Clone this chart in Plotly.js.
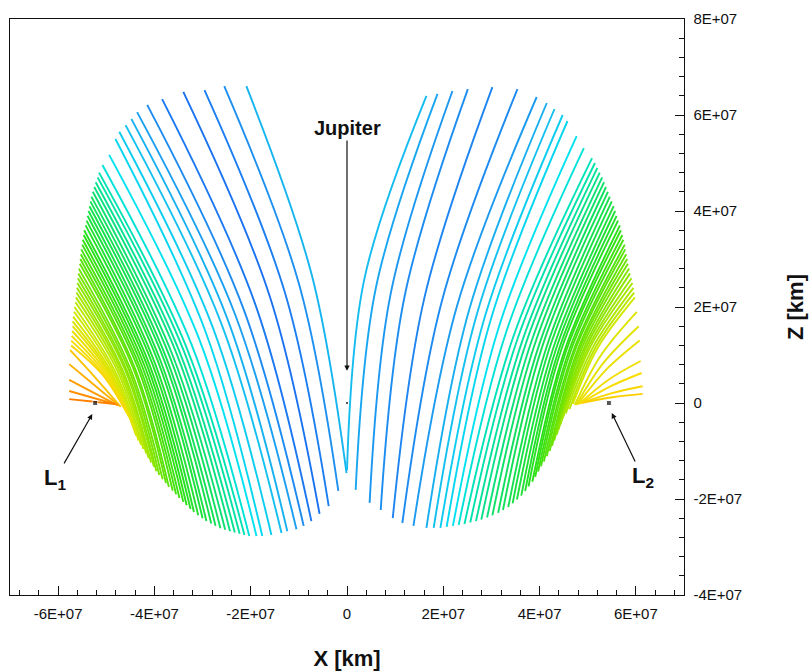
<!DOCTYPE html>
<html>
<head>
<meta charset="utf-8">
<script src="https://cdn.plot.ly/plotly-3.0.1.min.js"></script>
<style>html,body{margin:0;padding:0;background:#fff;}#chart{width:811px;height:671px;}</style>
</head>
<body>
<div id="chart"></div>
<script>
// All coordinates in units of 1E6 km (converted to km when plotted)
const UNIT = 1e6;

// ---- L1 family (left) : one orbit per entry, top end / middle / bottom end ----
const leftTopX = [-20.9,-25.5,-29.6,-34.0,-38.4,-41.5,-43.6,-44.8,-46.0,-47.3,-48.1,-49.4,-50.8,
 -51.5,-51.8,-52.2,-52.5,-52.8,-53.1,-53.3,-53.5,-53.7,-53.9,-54.1,-54.3,-54.6,-54.7,-54.9,-55.0,-55.2,-55.3,-55.4,-55.5,-55.7,-55.8,-55.9,-56.0,-56.1,-56.2,-56.3,-56.4,-56.6,-56.7,-56.9,-57.0,-57.0,-57.1,-57.2,-57.3,-57.3,
 -57.5,-57.7,-57.7,-57.7,-57.7];
const leftTopZ = [66.0,66.0,65.2,64.8,63.3,62.1,60.6,59.2,57.9,56.5,55.0,51.7,49.6,
 48,47,46,45,44,43,42,41,40,39,38,37,36,35,34,33,32,31,30,29,28,27,26,25,24,23,22,21,20,19,18,17,16,15,14,13,12,
 11.0,8.1,4.8,2.5,0.8];
const leftMidX = [-7.3,-10.0,-12.9,-16.0,-19.1,-21.5,-23.3,-24.9,-26.2,-27.9,-29.4,-30.7,-32.3,
 -33.3,-34.0,-34.8,-35.4,-36.2,-36.8,-37.5,-38.0,-38.7,-39.2,-39.9,-40.4,-41.0,-41.5,-42.0,-42.5,-43.0,-43.4,-44.0,-44.3,-44.9,-45.3,-45.7,-46.0,-46.5,-46.8,-47.2,-47.6,-48.1,-48.5,-48.9,-49.25,-49.5,-49.9,-50.3,-50.7,-51.0,
 -52.2,-52.5,-52.65,-52.8,-52.95];
const leftMidZ = [26.6,24.9,23.0,22.1,20.7,19.6,18.6,17.7,16.8,15.8,14.9,13.3,12.2,
 11.5,11.1,10.7,10.3,9.9,9.6,9.3,9.0,8.7,8.5,8.3,8.1,7.9,7.8,7.6,7.5,7.4,7.25,7.1,7.0,6.9,6.9,6.7,6.7,6.6,6.6,6.6,6.5,6.4,6.4,6.35,6.35,6.3,6.3,6.25,6.2,6.15,
 5.2,3.75,2.15,1.1,0.3];
const leftBotX = [-0.1,-1.8,-3.8,-5.7,-7.4,-9.0,-10.5,-12.4,-13.6,-15.7,-17.6,-18.8,-20.3,
 -21.3,-22.3,-23.3,-24.3,-25.3,-26.3,-27.3,-28.2,-29.2,-30.0,-30.9,-31.8,-32.5,-33.3,-34.0,-34.8,-35.5,-36.2,-37.0,-37.6,-38.3,-39.0,-39.6,-40.1,-40.7,-41.2,-41.7,-42.3,-42.8,-43.3,-43.8,-44.1,-44.4,-44.8,-45.3,-45.8,-46.3,
 -47.0,-47.3,-47.6,-47.9,-48.2];
const leftBotZ = [-14.6,-18.3,-21.5,-23.1,-24.6,-25.6,-26.3,-26.7,-27.1,-27.5,-27.7,-27.7,-27.7,
 -27.5,-27.25,-27.0,-26.7,-26.4,-26.1,-25.6,-25.1,-24.6,-24.0,-23.4,-22.7,-22.1,-21.3,-20.6,-19.8,-19.0,-18.3,-17.5,-16.7,-15.9,-15.0,-14.2,-13.3,-12.4,-11.5,-10.5,-9.6,-8.7,-7.8,-6.8,-5.8,-4.8,-3.8,-2.9,-2.0,-1.0,
 -0.8,-0.6,-0.5,-0.3,-0.2];
const leftLevel = [0.22,0.12,0.06,0.02,0.04,0.1,0.16,0.21,0.25,0.29,0.32,0.36,0.4,
 0.46,0.48,0.5,0.52,0.54,0.56,0.57,0.58,0.59,0.6,0.61,0.62,0.63,0.64,0.65,0.66,0.67,0.68,0.69,0.7,0.71,0.72,0.73,0.74,0.75,0.76,0.77,0.78,0.79,0.8,0.81,0.82,0.83,0.84,0.85,0.86,0.87,
 0.9,0.93,0.96,0.98,1.0];

// ---- L2 family (right) ----
const rightTopX = [16.5,18.8,21.9,25.1,30.2,35.4,39.4,41.5,43.1,44.8,45.8,47.7,49.2,
 50.9,51.5,52.0,52.5,53.0,53.4,53.8,54.2,54.6,55.0,55.4,55.7,56.0,56.3,56.7,56.9,57.2,57.4,57.7,57.8,58.0,58.2,58.35,58.6,58.8,59.1,59.3,59.5,59.65,59.8,
 60.2,60.6,60.8,61.0,61.2,61.4,61.4];
const rightTopZ = [64.0,64.4,65.0,65.4,65.8,65.4,63.75,62.5,61.25,60.0,58.75,55.6,53.1,
 51,50,49,48,47,46,45,44,43,42,41,40,39,38,37,36,35,34,33,32,31,30,29,28,27,26,25,24,23,22,
 19.0,16.0,13.0,8.75,6.25,3.5,1.9];
const rightMidX = [3.6,6.0,9.1,12.0,16.05,19.7,22.85,25.35,27.0,28.65,29.9,31.6,33.1,
 34.6,35.5,36.5,37.3,38.2,39.0,39.85,40.55,41.4,42.05,42.8,43.4,44.0,44.5,45.25,45.6,46.2,46.6,47.15,47.5,48.0,48.35,48.75,49.25,49.65,50.1,50.55,51.1,51.6,52.15,
 52.75,53.3,53.8,54.25,54.7,55.0,55.2];
const rightMidZ = [25.8,24.0,22.9,22.4,21.8,21.2,20.2,19.3,18.6,18.0,17.5,16.0,14.9,
 13.95,13.6,13.2,12.85,12.5,12.25,11.95,11.75,11.5,11.4,11.3,11.2,11.1,11.1,11.1,11.1,11.15,11.2,11.2,11.3,11.3,11.4,11.4,11.5,11.55,11.6,11.7,11.65,11.55,11.6,
 9.95,8.4,6.9,4.8,3.45,2.05,1.2];
const rightBotX = [0.0,1.8,4.7,7.0,9.5,11.5,13.8,16.5,18.0,19.4,20.7,22.0,23.2,
 24.4,25.6,26.8,27.9,29.1,30.2,31.4,32.4,33.5,34.4,35.3,36.2,37.0,37.7,38.5,39.1,39.7,40.3,40.9,41.5,42.1,42.6,43.05,43.55,43.95,44.35,44.8,45.45,46.2,46.9,
 47.3,47.6,47.9,48.2,48.5,48.8,49.1];
const rightBotZ = [-14.0,-18.1,-20.8,-22.3,-24.0,-25.0,-25.6,-26.0,-26.0,-26.0,-25.8,-25.6,-25.4,
 -25.2,-24.9,-24.6,-24.3,-23.86,-23.4,-22.9,-22.3,-21.7,-20.9,-20.1,-19.3,-18.35,-17.4,-16.4,-15.4,-14.3,-13.2,-12.2,-11.1,-10.0,-8.9,-7.8,-6.6,-5.5,-4.4,-3.2,-2.2,-1.3,-0.2,
 -0.4,-0.4,-0.3,-0.2,-0.1,0.0,0.1];
const rightLevel = [0.24,0.18,0.14,0.11,0.08,0.1,0.15,0.2,0.25,0.29,0.32,0.36,0.4,
 0.45,0.47,0.49,0.51,0.53,0.55,0.56,0.57,0.58,0.59,0.6,0.61,0.62,0.63,0.64,0.65,0.66,0.67,0.68,0.69,0.7,0.71,0.72,0.73,0.74,0.75,0.76,0.77,0.78,0.8,
 0.82,0.83,0.84,0.85,0.86,0.87,0.88];

// ---- Marked points and labels ----
const pointName = ['L1','L2','Jupiter'];
const pointX = [-52.3, 54.4, 0];
const pointZ = [0, 0, 0];
const labelText = ['<b>Jupiter</b>','<b>L<sub>1</sub></b>','<b>L<sub>2</sub></b>'];
const labelX = [0, -60.6, 61.4];
const labelZ = [57.3, -15.8, -15.4];
const arrowTipX = [0, -52.9, 55.0];
const arrowTipZ = [6.7, -2.3, -2.1];

// ---- Axis ticks ----
const xTickVals = [-6e7,-4e7,-2e7,0,2e7,4e7,6e7];
const xTickText = ['-6E+07','-4E+07','-2E+07','0','2E+07','4E+07','6E+07'];
const yTickVals = [-4e7,-2e7,0,2e7,4e7,6e7,8e7];
const yTickText = ['-4E+07','-2E+07','0','2E+07','4E+07','6E+07','8E+07'];

// colour map (jet-like)
const stops = [[0.00,[26,108,240]],[0.12,[30,144,240]],[0.25,[20,192,240]],[0.36,[0,226,240]],
  [0.46,[0,226,180]],[0.56,[16,224,96]],[0.64,[40,224,24]],[0.72,[120,228,0]],
  [0.80,[208,232,0]],[0.86,[248,220,0]],[0.93,[255,176,0]],[1.00,[255,128,0]]];
function colorAt(v){
  for(let i=1;i<stops.length;i++){
    if(v<=stops[i][0]){
      const a=stops[i-1], b=stops[i];
      const t=(v-a[0])/(b[0]-a[0]);
      const c=a[1].map((ch,k)=>Math.round(ch+(b[1][k]-ch)*t));
      return 'rgb('+c.join(',')+')';
    }
  }
  const c=stops[stops.length-1][1]; return 'rgb('+c.join(',')+')';
}

const traces = [];
function addFamily(tx,tz,mx,mz,bx,bz,lev){
  for(let i=0;i<tx.length;i++){
    traces.push({
      type:'scatter', mode:'lines',
      x:[tx[i]*UNIT, mx[i]*UNIT, bx[i]*UNIT],
      y:[tz[i]*UNIT, mz[i]*UNIT, bz[i]*UNIT],
      line:{shape:'spline', smoothing:1, width:1.9, color:colorAt(lev[i])},
      hoverinfo:'skip', showlegend:false
    });
  }
}
addFamily(leftTopX,leftTopZ,leftMidX,leftMidZ,leftBotX,leftBotZ,leftLevel);
addFamily(rightTopX,rightTopZ,rightMidX,rightMidZ,rightBotX,rightBotZ,rightLevel);

traces.push({
  type:'scatter', mode:'markers', name:'points',
  x:pointX.map(v=>v*UNIT), y:pointZ.map(v=>v*UNIT),
  marker:{symbol:'square', size:[5,5,3], color:'#111'},
  hoverinfo:'skip', showlegend:false
});

const annotations = labelText.map((t,i)=>({
  text:t, x:arrowTipX[i]*UNIT, y:arrowTipZ[i]*UNIT,
  ax:labelX[i]*UNIT, ay:labelZ[i]*UNIT, axref:'x', ayref:'y', xref:'x', yref:'y',
  showarrow:true, arrowhead:2, arrowsize:0.9, arrowwidth:1.2, arrowcolor:'#111',
  font:{size: i===0 ? 20 : 22, color:'#111', family:'Liberation Sans, Arial, sans-serif'}
}));

const axisCommon = {
  tickmode:'array', ticks:'inside', ticklen:9, tickwidth:1, tickcolor:'#111',
  showline:true, linecolor:'#111', linewidth:1.4, mirror:true,
  showgrid:false, zeroline:false, ticklabelstandoff:5,
  tickfont:{size:15, color:'#111'},
  minor:{tickmode:'linear', tick0:0, dtick:4e6, ticks:'inside', ticklen:5, tickcolor:'#111', showgrid:false}
};

const layout = {
  width:811, height:671,
  margin:{l:10, r:127, t:19, b:76},
  paper_bgcolor:'white', plot_bgcolor:'white',
  font:{family:'Liberation Sans, Arial, sans-serif', color:'#111', size:15},
  showlegend:false, hovermode:false,
  xaxis:Object.assign({}, axisCommon, {
    range:[-7e7,7e7], tickvals:xTickVals, ticktext:xTickText,
    title:{text:'<b>X [km]</b>', font:{size:22}, standoff:29}
  }),
  yaxis:Object.assign({}, axisCommon, {
    range:[-4e7,8e7], side:'right', tickvals:yTickVals, ticktext:yTickText,
    title:{text:'<b>Z [km]</b>', font:{size:22}, standoff:46}
  }),
  annotations:annotations
};

Plotly.newPlot('chart', traces, layout, {staticPlot:true, displayModeBar:false});
</script>
</body>
</html>
